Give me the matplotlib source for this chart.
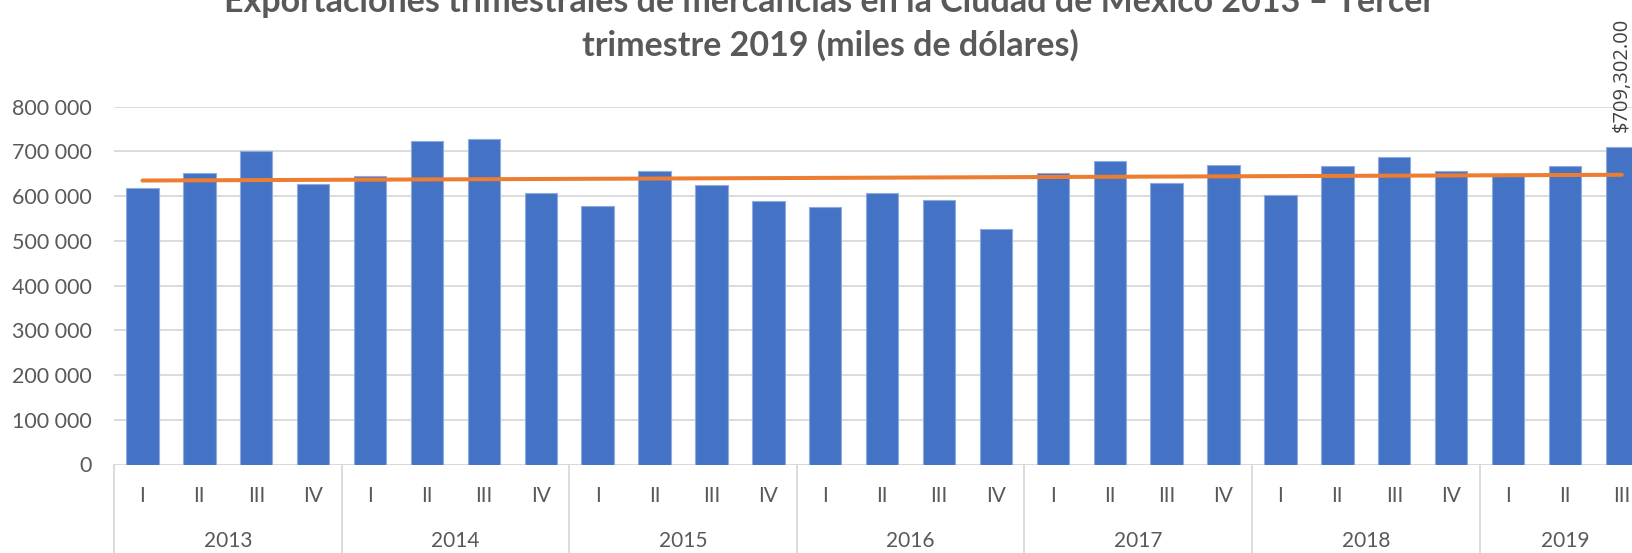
import numpy as np
import matplotlib
matplotlib.use('Agg')
import matplotlib.pyplot as plt
import matplotlib.transforms as mtransforms

# quarterly exports, thousands of USD
years = ['2013', '2014', '2015', '2016', '2017', '2018', '2019']
quarters = ['I', 'II', 'III', 'IV', 'I', 'II', 'III', 'IV', 'I', 'II', 'III', 'IV',
            'I', 'II', 'III', 'IV', 'I', 'II', 'III', 'IV', 'I', 'II', 'III', 'IV',
            'I', 'II', 'III']
values = [618000, 651000, 701000, 628000,
          646000, 723000, 728000, 607000,
          578000, 657000, 624000, 590000,
          575000, 608000, 591000, 526000,
          651000, 678000, 630000, 669000,
          602000, 667000, 688000, 657000,
          646000, 668000, 709302]
last_label = '$709,302.00'
title_l1 = 'Exportaciones trimestrales de mercancías en la Ciudad de México 2013 – Tercer'
title_l2 = 'trimestre 2019 (miles de dólares)'

W, H = 1633, 553
fig = plt.figure(figsize=(W / 100, H / 100), dpi=100)
plt.rcParams['font.family'] = ['Lato', 'DejaVu Sans']

x0, cat_w = 114, 56.9
n = len(values)
ax_bot, ax_top = 464.5, 106.7
ax = fig.add_axes([x0 / W, (H - ax_bot) / H, n * cat_w / W, (ax_bot - ax_top) / H])

xs = np.arange(n)
ax.bar(xs, values, width=0.57, color='#4472C4', edgecolor='#8FAADC', linewidth=0.8, zorder=2)

# linear trend line
p = np.polyfit(xs, values, 1)
ax.plot([xs[0], xs[-1]], np.polyval(p, [xs[0], xs[-1]]), color='#ED7D31', lw=2.9,
        solid_capstyle='round', zorder=3)

ax.set_xlim(-0.5, n - 0.5)
ax.set_ylim(0, 800000)
ax.set_yticks(np.arange(0, 800001, 100000))
ax.set_yticklabels(['0' if v == 0 else '{:,}'.format(v).replace(',', ' ') for v in range(0, 800001, 100000)],
                   fontsize=15.5, color='#595959')
ax.tick_params(axis='y', length=0, pad=16)
ax.tick_params(axis='x', length=0, labelbottom=False)
ax.grid(axis='y', color='#D9D9D9', lw=1.3, zorder=0)
for s in ax.spines.values():
    s.set_visible(False)
ax.axhline(0, color='#D9D9D9', lw=1.3, zorder=1)

# two-level category axis
trans = mtransforms.blended_transform_factory(ax.transData, ax.transAxes)
ah = ax_bot - ax_top
for i, q in enumerate(quarters):
    ax.text(i, -31.5 / ah, q, transform=trans, ha='center', va='center',
            fontsize=15, color='#595959')
for j, yr in enumerate(years):
    start = j * 4 - 0.5
    end = min(start + 4, n - 0.5)
    ax.text((start + end) / 2, -76.5 / ah, yr, transform=trans, ha='center', va='center',
            fontsize=15, color='#595959')
    ax.plot([start, start], [0, -0.3], transform=trans, color='#D9D9D9', lw=1.3, clip_on=False)

# data label on last bar
ax.annotate(last_label, (xs[-1], values[-1]), xytext=(0, 11), textcoords='offset points',
            rotation=90, ha='center', va='bottom', fontsize=14.5, color='#404040',
            family=['Open Sans', 'DejaVu Sans'], annotation_clip=False)

fig.text(830 / W, 1 - 12 / H, title_l1, ha='center', va='baseline', fontsize=24.5,
         fontweight='bold', color='#595959')
fig.text(830 / W, 1 - 56 / H, title_l2, ha='center', va='baseline', fontsize=24.5,
         fontweight='bold', color='#595959')

fig.savefig('out.png', dpi=100)
